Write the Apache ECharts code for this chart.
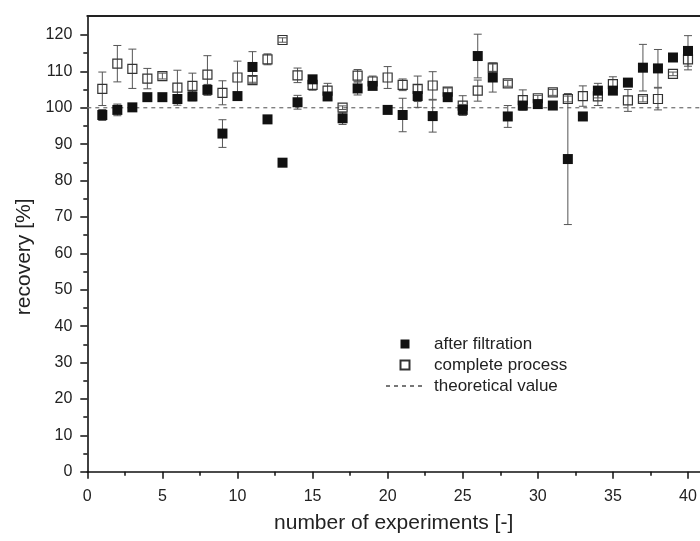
<!DOCTYPE html>
<html>
<head>
<meta charset="utf-8">
<script src="https://cdn.jsdelivr.net/npm/echarts@6/dist/echarts.min.js"></script>
<style>
  html, body { margin: 0; padding: 0; background: #fff; }
  #chart { width: 700px; height: 541px; }
</style>
</head>
<body>
<div id="chart"></div>
<script>
// Experiment numbers
const experiments = [1,2,3,4,5,6,7,8,9,10,11,12,13,14,15,16,17,18,19,20,
                     21,22,23,24,25,26,27,28,29,30,31,32,33,34,35,36,37,38,39,40];

// Recovery after filtration [%] and its spread
const afterFiltration = [98.0,99.4,100.1,102.9,102.9,102.4,103.1,104.9,92.9,103.2,
                         111.2,96.8,84.9,101.5,107.8,103.1,97.1,105.3,106.0,99.4,
                         98.0,103.2,97.7,102.9,99.4,114.2,108.3,97.6,100.6,101.0,
                         100.6,85.9,97.6,104.7,104.7,106.9,111.0,110.8,113.8,115.6];
const afterFiltrationErr = [1.5,1.6,0.5,0.6,0.5,1.2,1.2,1.5,3.8,0.8,
                            4.2,0.4,0.4,1.9,1.0,1.0,1.7,1.8,1.0,0.5,
                            4.6,3.1,4.4,1.0,1.5,6.0,4.0,3.0,0.8,0.6,
                            0.6,18.0,0.5,2.0,1.0,0.5,6.4,5.2,1.0,4.2];

// Recovery over the complete process [%] and its spread
const completeProcess = [105.2,112.1,110.7,108.0,108.7,105.5,106.0,109.1,104.1,108.3,
                         107.6,113.3,118.6,108.9,106.3,104.7,100.0,108.8,107.2,108.3,
                         106.3,105.2,106.1,104.4,100.6,104.7,111.0,106.7,102.1,102.6,
                         104.2,102.4,103.2,103.1,106.5,102.0,102.4,102.4,109.3,113.3];
const completeProcessErr = [4.6,5.0,5.4,2.8,0.8,4.8,3.5,5.2,3.3,4.5,
                            1.0,1.5,0.6,2.0,1.5,2.0,0.5,1.7,1.5,3.0,
                            1.6,3.5,3.8,1.0,2.7,2.9,1.0,0.8,2.8,0.8,
                            0.8,0.8,2.8,2.5,2.0,3.0,0.8,3.0,0.5,2.9];

const theoreticalValue = 100;

// Axis tick positions
const xMajorTicks = [0,5,10,15,20,25,30,35,40];
const xMinorTicks = [2.5,7.5,12.5,17.5,22.5,27.5,32.5,37.5];
const yMajorTicks = [0,10,20,30,40,50,60,70,80,90,100,110,120];
const yMinorTicks = [5,15,25,35,45,55,65,75,85,95,105,115];

const X_MAX = 40.8;
const Y_MAX = 125.2;
const FONT = '"Liberation Sans", Arial, sans-serif';
const SQUARE = 'path://M0,0H10V10H0Z';

function points(values) {
  return experiments.map((x, i) => [x, values[i]]);
}
function errorData(values, errs) {
  return experiments.map((x, i) => [x, values[i], errs[i]]);
}

// Vertical error bar with caps, positioned through the axes
function renderErrorBar(params, api) {
  const x = api.value(0), v = api.value(1), e = api.value(2);
  const hi = api.coord([x, v + e]);
  const lo = api.coord([x, v - e]);
  const cap = 4;
  const style = { stroke: '#555', lineWidth: 1 };
  return {
    type: 'group',
    children: [
      { type: 'line', shape: { x1: hi[0], y1: hi[1], x2: lo[0], y2: lo[1] }, style },
      { type: 'line', shape: { x1: hi[0] - cap, y1: hi[1], x2: hi[0] + cap, y2: hi[1] }, style },
      { type: 'line', shape: { x1: lo[0] - cap, y1: lo[1], x2: lo[0] + cap, y2: lo[1] }, style }
    ]
  };
}

const chart = echarts.init(document.getElementById('chart'), null, { renderer: 'canvas' });

const axisLineStyle = { color: '#111', width: 1.6 };
const tickStyle = { color: '#111', width: 1.5 };

chart.setOption({
  animation: false,
  backgroundColor: '#fff',
  textStyle: { fontFamily: FONT },
  grid: { left: 87.3, right: 0, top: 16, bottom: 69.3, containLabel: false },
  legend: {
    orient: 'vertical',
    left: 380,
    top: 329,
    itemWidth: 38,
    itemHeight: 9,
    itemGap: 1,
    selectedMode: false,
    textStyle: { fontFamily: FONT, fontSize: 17, color: '#222', lineHeight: 20, padding: [0, 0, 0, 5] },
    data: [
      { name: 'after filtration', icon: SQUARE },
      { name: 'complete process', icon: SQUARE },
      { name: 'theoretical value', itemStyle: { opacity: 0 } }
    ]
  },
  xAxis: [
    {
      type: 'value', min: 0, max: X_MAX, position: 'bottom',
      name: 'number of experiments [-]', nameLocation: 'middle', nameGap: 41,
      nameTextStyle: { fontFamily: FONT, fontSize: 21, color: '#222' },
      axisLine: { show: true, onZero: false, lineStyle: axisLineStyle },
      axisTick: { show: true, inside: false, length: 7, lineStyle: tickStyle, customValues: xMajorTicks },
      axisLabel: { show: true, margin: 17, fontFamily: FONT, fontSize: 16, color: '#222', customValues: xMajorTicks },
      splitLine: { show: false }
    },
    {
      type: 'value', min: 0, max: X_MAX, position: 'bottom',
      axisLine: { show: false, onZero: false },
      axisTick: { show: true, inside: false, length: 4, lineStyle: tickStyle, customValues: xMinorTicks },
      axisLabel: { show: false },
      splitLine: { show: false }
    },
    {
      type: 'value', min: 0, max: X_MAX, position: 'top',
      axisLine: { show: true, onZero: false, lineStyle: { color: '#222', width: 2 } },
      axisTick: { show: false },
      axisLabel: { show: false },
      splitLine: { show: false }
    }
  ],
  yAxis: [
    {
      type: 'value', min: 0, max: Y_MAX, position: 'left',
      name: 'recovery [%]', nameLocation: 'middle', nameGap: 53, nameRotate: 90,
      nameTextStyle: { fontFamily: FONT, fontSize: 21, color: '#222', padding: [0, 26, 0, 0] },
      axisLine: { show: true, onZero: false, lineStyle: axisLineStyle },
      axisTick: { show: true, inside: false, length: 7, lineStyle: tickStyle, customValues: yMajorTicks },
      axisLabel: { show: true, margin: 15, fontFamily: FONT, fontSize: 16, color: '#222', customValues: yMajorTicks },
      splitLine: { show: false }
    },
    {
      type: 'value', min: 0, max: Y_MAX, position: 'left',
      axisLine: { show: false, onZero: false },
      axisTick: { show: true, inside: false, length: 4, lineStyle: tickStyle, customValues: yMinorTicks },
      axisLabel: { show: false },
      splitLine: { show: false }
    }
  ],
  series: [
    {
      name: 'theoretical value',
      type: 'line',
      xAxisIndex: 0, yAxisIndex: 0,
      data: [[0, theoreticalValue], [X_MAX, theoreticalValue]],
      symbol: 'none',
      lineStyle: { color: '#777', width: 1.3, type: [4, 4] },
      itemStyle: { color: '#777' },
      z: 1
    },
    {
      name: 'complete process err',
      type: 'custom',
      xAxisIndex: 0, yAxisIndex: 0,
      renderItem: renderErrorBar,
      data: errorData(completeProcess, completeProcessErr),
      z: 2
    },
    {
      name: 'after filtration err',
      type: 'custom',
      xAxisIndex: 0, yAxisIndex: 0,
      renderItem: renderErrorBar,
      data: errorData(afterFiltration, afterFiltrationErr),
      z: 2
    },
    {
      name: 'complete process',
      type: 'scatter',
      xAxisIndex: 0, yAxisIndex: 0,
      symbol: 'rect',
      symbolSize: 9,
      data: points(completeProcess),
      itemStyle: { color: 'rgba(255,255,255,0)', borderColor: '#333', borderWidth: 1.2, opacity: 1 },
      z: 3
    },
    {
      name: 'after filtration',
      type: 'scatter',
      xAxisIndex: 0, yAxisIndex: 0,
      symbol: 'rect',
      symbolSize: 10,
      data: points(afterFiltration),
      itemStyle: { color: '#111', opacity: 1 },
      z: 4
    }
  ]
});
</script>
</body>
</html>
